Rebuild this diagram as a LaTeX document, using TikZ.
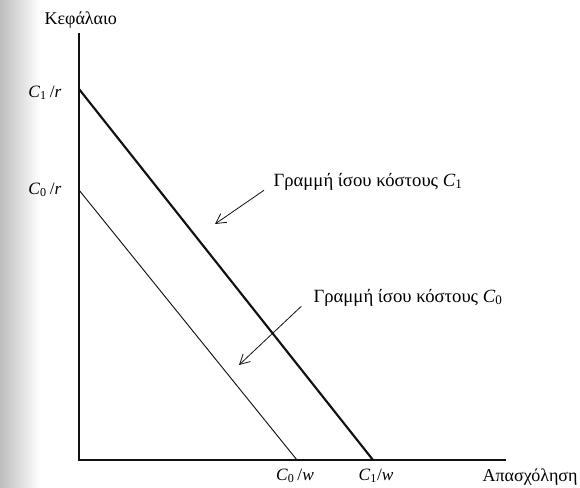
\documentclass[tikz,border=0pt]{standalone}
\usepackage{fontspec}
\setmainfont{Liberation Serif}
\usepackage{tikz}
\usetikzlibrary{positioning,arrows.meta}
\definecolor{ink}{HTML}{111111}
\definecolor{scan}{HTML}{BDBDBD}
\tikzset{
  axisline/.style={draw=ink, line width=1.1pt},
  costthin/.style={draw=ink, line width=0.7pt},
  costthick/.style={draw=ink, line width=1.6pt},
  callout/.style={-{Straight Barb[length=2.6mm,width=2.8mm]}, draw=ink, line width=0.6pt},
  axislabel/.style={font=\fontsize{13.5}{16}\selectfont, inner sep=1pt, anchor=base west},
  ticklabel/.style={font=\fontsize{13}{15}\selectfont, inner sep=1pt},
  linelabel/.style={font=\fontsize{14}{16}\selectfont, inner sep=1pt, anchor=base west}
}
\newcommand{\cv}[2]{\textit{C}\textsubscript{#1}\,/\textit{#2}}

\begin{document}
\begin{tikzpicture}[x=0.75pt,y=-0.75pt]
  \useasboundingbox (0,0) rectangle (580,487);
  % scanner edge on the left
  \shade[left color=scan, right color=white] (0,0) rectangle (40,487);
  % axes
  \coordinate (origin) at (79,460);
  \coordinate (ytop) at (79,33);
  \coordinate (xend) at (506,460);
  \draw[axisline] (ytop) -- (origin) -- (xend);
  % iso-cost lines
  \coordinate (c1r) at (79,89);
  \coordinate (c1w) at (373,460);
  \coordinate (c0r) at (79,190);
  \coordinate (c0w) at (297,460);
  \draw[costthick] (c1r) -- (c1w);
  \draw[costthin] (c0r) -- (c0w);
  % labels
  \node[axislabel] (capital) at (43,24) {Κεφάλαιο};
  \node[axislabel] (labour) at (481,481) {Απασχόληση};
  \node[ticklabel, anchor=base east] (lc1r) at (63,97) {\cv{1}{r}};
  \node[ticklabel, anchor=base east] (lc0r) at (63,194) {\cv{0}{r}};
  \node[ticklabel, anchor=base] (lc0w) at (295,480) {\cv{0}{w}};
  \node[ticklabel, anchor=base] (lc1w) at (376,480) {\textit{C}\textsubscript{1}/\textit{w}};
  \node[linelabel] (iso1) at (272,186) {Γραμμή ίσου κόστους \textit{C}\textsubscript{1}};
  \node[linelabel] (iso0) at (312,302) {Γραμμή ίσου κόστους \textit{C}\textsubscript{0}};
  % callouts
  \coordinate (tip1) at (215,224);
  \coordinate (tip0) at (239,365);
  \draw[callout] ([xshift=-6pt,yshift=1pt]iso1.south west) -- (tip1);
  \draw[callout] ([xshift=-8pt,yshift=1pt]iso0.south west) -- (tip0);
\end{tikzpicture}
\end{document}
